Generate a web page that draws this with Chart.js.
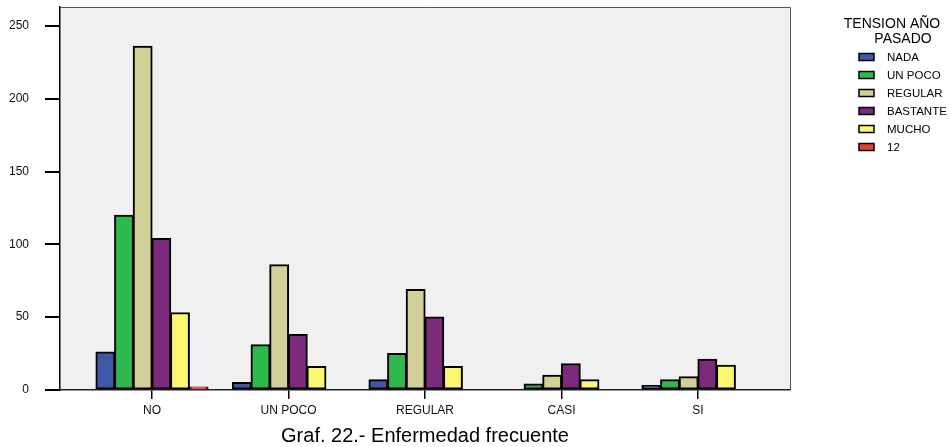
<!DOCTYPE html>
<html>
<head>
<meta charset="utf-8">
<script src="https://cdn.jsdelivr.net/npm/chart.js@4.4.0/dist/chart.umd.min.js"></script>
<style>
  body { margin: 0; background: #fff; }
</style>
</head>
<body>
<canvas id="myChart" width="951" height="447"></canvas>
<script>
// data
var categories = ['NO', 'UN POCO', 'REGULAR', 'CASI', 'SI'];
var seriesNames = ['NADA', 'UN POCO', 'REGULAR', 'BASTANTE', 'MUCHO', '12'];
var nada = [26, 5, 7, 0, 3];
var unPoco = [120, 31, 25, 4, 7];
var regular = [236, 86, 69, 10, 9];
var bastante = [104, 38, 50, 18, 21];
var mucho = [53, 16, 16, 7, 17];
var doce = [2, 0, 0, 0, 0];
var yTicks = [0, 50, 100, 150, 200, 250];
var legendTitle = ['TENSION AÑO', 'PASADO'];
var chartTitle = 'Graf. 22.- Enfermedad frecuente';

var colors = ['#3e58a6', '#2fb84b', '#d3cf98', '#7c2a7b', '#fbf771', '#ec3b3b'];
var allSeries = [nada, unPoco, regular, bastante, mucho, doce];

var datasets = allSeries.map(function (vals, k) {
    return {
        label: seriesNames[k],
        data: vals.map(function (v, i) { return { x: i, y: v }; }),
        backgroundColor: colors[k],
        borderColor: k == 5 ? '#5a0e0e' : '#000',
        borderWidth: 2,
        borderSkipped: false,
        inflateAmount: 0.6,
        categoryPercentage: 0.82,
        barPercentage: 1
    };
});

var font = 'Liberation Sans, Arial, sans-serif';

// plot background, frame, legend and caption
var decor = {
    id: 'decor',
    beforeDraw: function (chart) {
        var a = chart.chartArea, ctx = chart.ctx;
        ctx.save();
        ctx.fillStyle = '#f0f0f0';
        ctx.fillRect(a.left, a.top, a.right - a.left, a.bottom - a.top);
        ctx.strokeStyle = '#555';
        ctx.lineWidth = 1;
        ctx.beginPath();
        ctx.moveTo(a.left, a.top + 0.5);
        ctx.lineTo(a.right + 0.5, a.top + 0.5);
        ctx.lineTo(a.right + 0.5, a.bottom);
        ctx.stroke();
        ctx.restore();
    },
    afterDraw: function (chart) {
        var a = chart.chartArea, ctx = chart.ctx;
        ctx.save();
        ctx.fillStyle = '#000';
        ctx.textBaseline = 'alphabetic';
        ctx.textAlign = 'center';
        ctx.font = '14px ' + font;
        ctx.fillText(legendTitle[0], 892, 28);
        ctx.fillText(legendTitle[1], 903, 43);
        ctx.textAlign = 'left';
        ctx.textBaseline = 'middle';
        ctx.font = '11.5px ' + font;
        seriesNames.forEach(function (name, k) {
            var y = 57 + k * 18;
            ctx.fillStyle = colors[k];
            ctx.fillRect(859, y - 3.5, 15, 7);
            ctx.strokeStyle = '#000';
            ctx.lineWidth = 1.5;
            ctx.strokeRect(859, y - 3.5, 15, 7);
            ctx.fillStyle = '#000';
            ctx.fillText(name, 887, y + 1);
        });
        ctx.textAlign = 'center';
        ctx.textBaseline = 'alphabetic';
        ctx.font = '20px ' + font;
        ctx.fillText(chartTitle, (a.left + a.right) / 2, 442);
        ctx.restore();
    }
};

var ctx = document.getElementById('myChart').getContext('2d');
var chart = new Chart(ctx, {
    type: 'bar',
    data: { datasets: datasets },
    options: {
        responsive: false,
        animation: false,
        layout: { padding: { left: 0, top: 7, right: 161, bottom: 0 } },
        plugins: {
            legend: { display: false },
            tooltip: { enabled: false }
        },
        scales: {
            x: {
                type: 'linear',
                offset: false,
                min: -0.674,
                max: 4.674,
                afterFit: function (s) {
                    s.height = 57;
                    s.paddingLeft = 0;
                    s.paddingRight = 0;
                },
                afterBuildTicks: function (s) {
                    s.ticks = categories.map(function (c, i) { return { value: i }; });
                },
                grid: { offset: false, drawOnChartArea: false, drawTicks: true, tickLength: 9, color: '#000', lineWidth: 1.5 },
                border: { display: true, color: '#222', width: 1.5 },
                ticks: {
                    autoSkip: false,
                    maxRotation: 0,
                    padding: 4,
                    color: '#111',
                    font: { family: font, size: 12 },
                    callback: function (v) { return categories[v]; }
                }
            },
            y: {
                min: 0,
                max: 263,
                afterFit: function (s) {
                    s.width = 60;
                    s.paddingTop = 0;
                    s.paddingBottom = 0;
                },
                afterBuildTicks: function (s) {
                    s.ticks = yTicks.map(function (v) { return { value: v }; });
                },
                grid: { drawOnChartArea: false, drawTicks: true, tickLength: 15, color: '#000', lineWidth: 2 },
                border: { display: true, color: '#000', width: 1.5 },
                ticks: {
                    padding: 16,
                    color: '#111',
                    font: { family: font, size: 12 }
                }
            }
        }
    },
    plugins: [decor]
});
</script>
</body>
</html>
